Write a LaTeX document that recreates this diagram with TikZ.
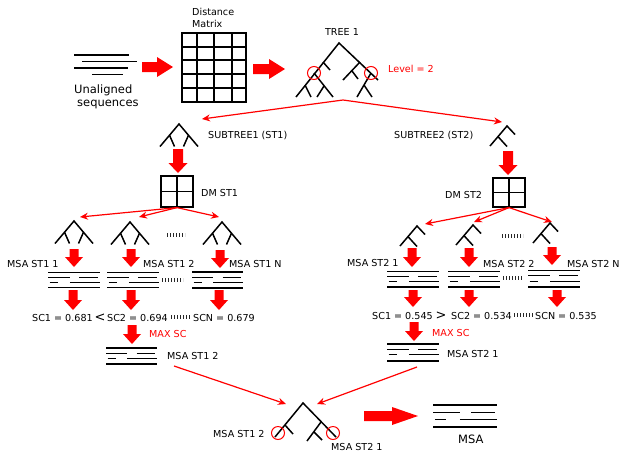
\documentclass[tikz,border=0pt]{standalone}
\usepackage{fontspec}
\setmainfont{DejaVu Sans}
\usetikzlibrary{arrows.meta}
\definecolor{rd}{RGB}{255,0,0}
\newcommand\fatdown[6]{\fill[rd] ({#1-#4},{#2}) -- ({#1+#4},{#2}) -- ({#1+#4},{#3-#6}) -- ({#1+#5},{#3-#6}) -- ({#1},{#3}) -- ({#1-#5},{#3-#6}) -- ({#1-#4},{#3-#6}) -- cycle;}
\newcommand\fatright[6]{\fill[rd] ({#1},{#2-#4}) -- ({#3-#6},{#2-#4}) -- ({#3-#6},{#2-#5}) -- ({#3},{#2}) -- ({#3-#6},{#2+#5}) -- ({#3-#6},{#2+#4}) -- ({#1},{#2+#4}) -- cycle;}
\newcommand\msab[4]{%
 \draw[msaline] ({#1},{#2}) -- ({#1+#3},{#2});
 \draw[msaline] ({#1},{#2+0.32*#4}) -- ({#1+0.42*#3},{#2+0.32*#4}) ({#1+0.6*#3},{#2+0.32*#4}) -- ({#1+0.97*#3},{#2+0.32*#4});
 \draw[msaline] ({#1+0.03*#3},{#2+0.64*#4}) -- ({#1+0.2*#3},{#2+0.64*#4}) ({#1+0.42*#3},{#2+0.64*#4}) -- ({#1+#3},{#2+0.64*#4});
 \draw[msaline] ({#1},{#2+#4}) -- ({#1+#3},{#2+#4});}
\tikzset{
 tl/.style={line width=1.5pt, black},
 msaline/.style={line width=1.1pt, black},
 grid/.style={line width=1.2pt, black},
 thin arrow/.style={draw=rd, line width=1.2pt, -{Stealth[length=8pt,width=7pt]}},
 circ/.style={draw=rd, line width=1pt},
 lbl/.style={font=\fontsize{9.6}{11}\selectfont, inner sep=0pt, anchor=base west},
 lblc/.style={font=\fontsize{9.6}{11}\selectfont, inner sep=0pt, anchor=base},
 dots/.style={line width=3.5pt, dash pattern=on 1.1pt off 1.9pt, black!85},
 treeA/.pic={\draw[tl] (-19,22.5) -- (0,0) -- (19,22.5); \draw[tl] (-9.5,11.25) -- (-4.5,22.5); \draw[tl] (9.5,11.25) -- (4.5,22.5);},
 treeB/.pic={\draw[tl] (-17,20) -- (0,0) -- (8,8.5); \draw[tl] (-9,10.6) -- (0,20.5);}
}
\begin{document}
\begin{tikzpicture}[x=1pt,y=-1pt]
\useasboundingbox (0,0) rectangle (621,451);
% unaligned sequences
\draw[msaline] (74,55) -- (129,55) (82,61.5) -- (137,61.5) (74,68) -- (128,68) (92,74.5) -- (123,74.5);
\node[lbl, font=\fontsize{11.5}{13}\selectfont] (un1) at (74,93) {Unaligned};
\node[lbl, font=\fontsize{11.5}{13}\selectfont] (un2) at (77,106) {sequences};
\fatright{142}{67}{173}{5}{10}{16}
% distance matrix
\node[lbl] (dist) at (192,15) {Distance};
\node[lbl] (matr) at (192,27) {Matrix};
\node[draw, grid, minimum width=64pt, minimum height=69pt, inner sep=0pt] (dm) at (214,67.5) {};
\draw[grid] (197,33) -- (197,102) (214,33) -- (214,102) (232,33) -- (232,102);
\draw[grid] (182,47) -- (246,47) (182,60) -- (246,60) (182,74) -- (246,74) (182,88) -- (246,88);
\fatright{253}{69}{285}{5}{10}{16}
% tree 1
\node[lblc] (t1) at (342,35) {TREE 1};
\draw[tl] (296,97) -- (339,43) -- (378,80);
\draw[tl] (323,62) -- (330,70);
\draw[tl] (305,85) -- (311,97);
\draw[tl] (314,73) -- (333,97);
\draw[tl] (324,86) -- (317,97);
\draw[tl] (360,62) -- (343,80);
\draw[tl] (352,71) -- (358,79);
\draw[tl] (371,73) -- (357,97);
\draw[tl] (364,85) -- (372,97);
\draw[circ] (314,73) circle (6.5);
\draw[circ] (371,73) circle (6.5);
\node[lbl, text=rd] (lev) at (388,72) {Level = 2};
\coordinate (tb) at (343,100);
\coordinate (st1t) at (202,119);
\coordinate (st2t) at (502,122);
\draw[thin arrow] (tb) -- (st1t);
\draw[thin arrow] (tb) -- (st2t);
% subtree 1
\pic at (179,124) {treeA};
\node[lbl] (st1) at (208,138) {SUBTREE1 (ST1)};
\fatdown{178}{149}{173}{5}{9.5}{10}
\node[draw, grid, minimum width=32pt, minimum height=31pt, inner sep=0pt] (dm1) at (177,191.5) {};
\draw[grid] (dm1.north) -- (dm1.south) (dm1.west) -- (dm1.east);
\node[lbl] (dm1l) at (201,196) {DM ST1};
\coordinate (a11) at (80,217);
\coordinate (a12) at (139,217);
\coordinate (a13) at (219,217);
\draw[thin arrow] (dm1.south) -- (a11);
\draw[thin arrow] (dm1.south) -- (a12);
\draw[thin arrow] (dm1.south) -- (a13);
\pic at (74,221) {treeA};
\pic at (130,222) {treeA};
\pic at (222,222) {treeA};
\draw[dots] (167,235) -- (185,235);
\fatdown{74}{249}{267}{4.5}{9}{10}
\fatdown{131}{249}{267}{4.5}{9}{10}
\fatdown{220}{250}{268}{4.5}{9}{10}
\node[lbl] (m11) at (7,267) {MSA ST1 1};
\node[lbl] (m12) at (143,267) {MSA ST1 2};
\node[lbl] (m1n) at (229,267) {MSA ST1 N};
\msab{48}{272.5}{52}{15}
\msab{107}{272.5}{52}{15}
\msab{192}{272}{51}{16}
\draw[dots] (162,280) -- (183,280);
\fatdown{73}{290}{310}{4.5}{9}{10}
\fatdown{131}{290}{310}{4.5}{9}{10}
\fatdown{219}{290}{310}{4.5}{9}{10}
\node[lbl] (sc11) at (32,321) {SC1 = 0.681};
\node[lbl, font=\fontsize{13}{14}\selectfont] (lt) at (94.5,321.5) {<};
\node[lbl] (sc12) at (107,321) {SC2 = 0.694};
\draw[dots] (171,317) -- (190,317);
\node[lbl] (sc1n) at (193,321) {SCN = 0.679};
\fatdown{132}{325}{344}{4.5}{9}{10}
\node[lbl, text=rd] (max1) at (149,337) {MAX SC};
\msab{106}{348}{51}{16}
\node[lbl] (b12) at (167,359) {MSA ST1 2};
% subtree 2
\pic at (507,126) {treeB};
\node[lbl] (st2) at (394,138) {SUBTREE2 (ST2)};
\fatdown{508}{151}{175}{5}{9.5}{10}
\node[draw, grid, minimum width=32pt, minimum height=29pt, inner sep=0pt] (dm2) at (509,192.5) {};
\draw[grid] (dm2.north) -- (dm2.south) (dm2.west) -- (dm2.east);
\node[lbl] (dm2l) at (445,198) {DM ST2};
\coordinate (a21) at (425,224);
\coordinate (a22) at (474,222);
\coordinate (a23) at (552,222);
\draw[thin arrow] (dm2.south) -- (a21);
\draw[thin arrow] (dm2.south) -- (a22);
\draw[thin arrow] (dm2.south) -- (a23);
\pic at (417,226) {treeB};
\pic at (473,225) {treeB};
\pic at (550,223) {treeB};
\draw[dots] (502,236) -- (523,236);
\fatdown{412}{248}{267}{4.5}{9}{10}
\fatdown{469}{248}{267}{4.5}{9}{10}
\fatdown{552}{247}{265}{4.5}{9}{10}
\node[lbl] (m21) at (347,266) {MSA ST2 1};
\node[lbl] (m22) at (483,267) {MSA ST2 2};
\node[lbl] (m2n) at (567,267) {MSA ST2 N};
\msab{387}{271.5}{52}{15.5}
\msab{448}{271.5}{52}{15.5}
\msab{528}{270.5}{52}{16.5}
\draw[dots] (503,278) -- (523,278);
\fatdown{413}{290}{307}{4.5}{9}{10}
\fatdown{469}{290}{307}{4.5}{9}{10}
\fatdown{557}{290}{307}{4.5}{9}{10}
\node[lbl] (sc21) at (372,319) {SC1 = 0.545};
\node[lbl, font=\fontsize{13}{14}\selectfont] (gt) at (435.5,319.5) {>};
\node[lbl] (sc22) at (451,319) {SC2 = 0.534};
\draw[dots] (514,315) -- (534,315);
\node[lbl] (sc2n) at (535,319) {SCN = 0.535};
\fatdown{414}{322}{341}{4.5}{9}{10}
\node[lbl, text=rd] (max2) at (432,336) {MAX SC};
\msab{387}{344}{52}{17}
\node[lbl] (b21) at (447,357) {MSA ST2 1};
% final
\coordinate (f1s) at (174,366);
\coordinate (f1e) at (286,404);
\coordinate (f2s) at (417,367);
\coordinate (f2e) at (317,404);
\draw[thin arrow] (f1s) -- (f1e);
\draw[thin arrow] (f2s) -- (f2e);
\draw[tl] (275,437) -- (303,403) -- (336,437);
\draw[tl] (285,425) -- (293,434);
\draw[tl] (321,422) -- (307,441);
\draw[tl] (314,432) -- (322,440);
\draw[circ] (278,433) circle (6.5);
\draw[circ] (333,433) circle (6.5);
\node[lbl] (fl1) at (213,437) {MSA ST1 2};
\node[lbl] (fl2) at (331,450) {MSA ST2 1};
\fatright{364}{416}{418}{5}{9}{26}
\msab{433}{405}{64}{22}
\node[lbl, font=\fontsize{11.5}{13}\selectfont] (msa) at (458,443) {MSA};
\end{tikzpicture}
\end{document}
